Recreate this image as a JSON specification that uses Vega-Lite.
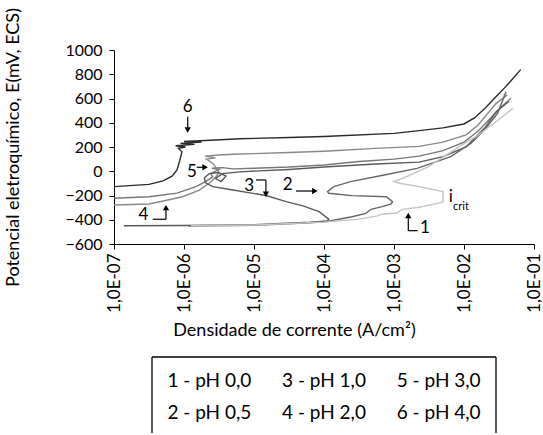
{
  "$schema": "https://vega.github.io/schema/vega-lite/v6.json",
  "background": "white",
  "padding": {"left": 4, "top": 7, "right": 0, "bottom": 0},
  "config": {
    "font": "Lato",
    "view": {"stroke": null},
    "axis": {"domainColor": "#000", "tickColor": "#000", "labelColor": "#000", "titleColor": "#000", "grid": false, "labelFont": "Lato", "titleFont": "Lato", "titleFontWeight": "normal"}
  },
  "datasets": {
    "curvas": [
      {"curva": "6", "i": 1, "j": 1.0e-7, "E": -127},
      {"curva": "6", "i": 2, "j": 3.16e-7, "E": -108},
      {"curva": "6", "i": 3, "j": 5.01e-7, "E": -80},
      {"curva": "6", "i": 4, "j": 6.76e-7, "E": -40},
      {"curva": "6", "i": 5, "j": 7.94e-7, "E": 10},
      {"curva": "6", "i": 6, "j": 8.71e-7, "E": 90},
      {"curva": "6", "i": 7, "j": 9.33e-7, "E": 160},
      {"curva": "6", "i": 8, "j": 8.32e-7, "E": 190},
      {"curva": "6", "i": 9, "j": 1.05e-6, "E": 200},
      {"curva": "6", "i": 10, "j": 7.59e-7, "E": 210},
      {"curva": "6", "i": 11, "j": 1.41e-6, "E": 222},
      {"curva": "6", "i": 12, "j": 8.91e-7, "E": 230},
      {"curva": "6", "i": 13, "j": 1.78e-6, "E": 240},
      {"curva": "6", "i": 14, "j": 1.0e-6, "E": 245},
      {"curva": "6", "i": 15, "j": 2.82e-6, "E": 258},
      {"curva": "6", "i": 16, "j": 6.31e-6, "E": 268},
      {"curva": "6", "i": 17, "j": 3.16e-5, "E": 278},
      {"curva": "6", "i": 18, "j": 1.0e-4, "E": 287},
      {"curva": "6", "i": 19, "j": 1.0e-3, "E": 312},
      {"curva": "6", "i": 20, "j": 2.29e-3, "E": 335},
      {"curva": "6", "i": 21, "j": 5.01e-3, "E": 358},
      {"curva": "6", "i": 22, "j": 1.0e-2, "E": 390},
      {"curva": "6", "i": 23, "j": 1.41e-2, "E": 440},
      {"curva": "6", "i": 24, "j": 2.0e-2, "E": 520},
      {"curva": "6", "i": 25, "j": 2.82e-2, "E": 610},
      {"curva": "6", "i": 26, "j": 3.98e-2, "E": 700},
      {"curva": "6", "i": 27, "j": 6.46e-2, "E": 838},

      {"curva": "5", "i": 1, "j": 1.0e-7, "E": -223},
      {"curva": "5", "i": 2, "j": 3.16e-7, "E": -210},
      {"curva": "5", "i": 3, "j": 7.94e-7, "E": -180},
      {"curva": "5", "i": 4, "j": 1.48e-6, "E": -127},
      {"curva": "5", "i": 5, "j": 2.04e-6, "E": -86},
      {"curva": "5", "i": 6, "j": 2.57e-6, "E": -45},
      {"curva": "5", "i": 7, "j": 2.4e-6, "E": -20},
      {"curva": "5", "i": 8, "j": 2.82e-6, "E": 0},
      {"curva": "5", "i": 9, "j": 3.16e-6, "E": 15},
      {"curva": "5", "i": 10, "j": 2.51e-6, "E": 25},
      {"curva": "5", "i": 11, "j": 3.55e-6, "E": 30},
      {"curva": "5", "i": 12, "j": 5.01e-6, "E": 20},
      {"curva": "5", "i": 13, "j": 1.0e-5, "E": 25},
      {"curva": "5", "i": 14, "j": 3.16e-5, "E": 35},
      {"curva": "5", "i": 15, "j": 1.0e-4, "E": 52},
      {"curva": "5", "i": 16, "j": 3.16e-4, "E": 80},
      {"curva": "5", "i": 17, "j": 1.0e-3, "E": 100},
      {"curva": "5", "i": 18, "j": 2.29e-3, "E": 125},
      {"curva": "5", "i": 19, "j": 5.01e-3, "E": 170},
      {"curva": "5", "i": 20, "j": 1.0e-2, "E": 240},
      {"curva": "5", "i": 21, "j": 1.58e-2, "E": 330},
      {"curva": "5", "i": 22, "j": 2.51e-2, "E": 450},
      {"curva": "5", "i": 23, "j": 3.55e-2, "E": 540},
      {"curva": "5", "i": 24, "j": 4.68e-2, "E": 602},

      {"curva": "4", "i": 1, "j": 1.0e-7, "E": -278},
      {"curva": "4", "i": 2, "j": 3.16e-7, "E": -270},
      {"curva": "4", "i": 3, "j": 5.25e-7, "E": -243},
      {"curva": "4", "i": 4, "j": 9.55e-7, "E": -210},
      {"curva": "4", "i": 5, "j": 1.66e-6, "E": -155},
      {"curva": "4", "i": 6, "j": 2.29e-6, "E": -99},
      {"curva": "4", "i": 7, "j": 2.88e-6, "E": -45},
      {"curva": "4", "i": 8, "j": 3.16e-6, "E": -10},
      {"curva": "4", "i": 9, "j": 2.63e-6, "E": 60},
      {"curva": "4", "i": 10, "j": 2.09e-6, "E": 100},
      {"curva": "4", "i": 11, "j": 2.82e-6, "E": 110},
      {"curva": "4", "i": 12, "j": 2.0e-6, "E": 125},
      {"curva": "4", "i": 13, "j": 3.16e-6, "E": 134},
      {"curva": "4", "i": 14, "j": 5.01e-6, "E": 140},
      {"curva": "4", "i": 15, "j": 1.0e-5, "E": 145},
      {"curva": "4", "i": 16, "j": 3.16e-5, "E": 155},
      {"curva": "4", "i": 17, "j": 1.0e-4, "E": 165},
      {"curva": "4", "i": 18, "j": 5.5e-4, "E": 189},
      {"curva": "4", "i": 19, "j": 2.29e-3, "E": 205},
      {"curva": "4", "i": 20, "j": 5.01e-3, "E": 240},
      {"curva": "4", "i": 21, "j": 1.07e-2, "E": 300},
      {"curva": "4", "i": 22, "j": 1.58e-2, "E": 380},
      {"curva": "4", "i": 23, "j": 2.88e-2, "E": 560},
      {"curva": "4", "i": 24, "j": 4.17e-2, "E": 630},

      {"curva": "3", "i": 1, "j": 1.38e-7, "E": -450},
      {"curva": "3", "i": 2, "j": 1.0e-6, "E": -447},
      {"curva": "3", "i": 3, "j": 1.0e-5, "E": -440},
      {"curva": "3", "i": 4, "j": 2.88e-5, "E": -429},
      {"curva": "3", "i": 5, "j": 6.31e-5, "E": -420},
      {"curva": "3", "i": 6, "j": 1.12e-4, "E": -410},
      {"curva": "3", "i": 7, "j": 1.17e-4, "E": -395},
      {"curva": "3", "i": 8, "j": 8.51e-5, "E": -333},
      {"curva": "3", "i": 9, "j": 5.01e-5, "E": -285},
      {"curva": "3", "i": 10, "j": 2.88e-5, "E": -251},
      {"curva": "3", "i": 11, "j": 1.48e-5, "E": -200},
      {"curva": "3", "i": 12, "j": 5.01e-6, "E": -155},
      {"curva": "3", "i": 13, "j": 2.57e-6, "E": -127},
      {"curva": "3", "i": 14, "j": 2.04e-6, "E": -96},
      {"curva": "3", "i": 15, "j": 1.95e-6, "E": -55},
      {"curva": "3", "i": 16, "j": 2.29e-6, "E": -20},
      {"curva": "3", "i": 17, "j": 3.09e-6, "E": -10},
      {"curva": "3", "i": 18, "j": 3.98e-6, "E": -40},
      {"curva": "3", "i": 19, "j": 3.39e-6, "E": -85},
      {"curva": "3", "i": 20, "j": 2.82e-6, "E": -60},
      {"curva": "3", "i": 21, "j": 3.55e-6, "E": -20},
      {"curva": "3", "i": 22, "j": 6.31e-6, "E": -5},
      {"curva": "3", "i": 23, "j": 3.16e-5, "E": 15},
      {"curva": "3", "i": 24, "j": 1.0e-4, "E": 35},
      {"curva": "3", "i": 25, "j": 5.5e-4, "E": 60},
      {"curva": "3", "i": 26, "j": 2.29e-3, "E": 75},
      {"curva": "3", "i": 27, "j": 5.01e-3, "E": 120},
      {"curva": "3", "i": 28, "j": 1.07e-2, "E": 200},
      {"curva": "3", "i": 29, "j": 2.0e-2, "E": 360},
      {"curva": "3", "i": 30, "j": 2.88e-2, "E": 491},
      {"curva": "3", "i": 31, "j": 4.37e-2, "E": 575},

      {"curva": "2", "i": 1, "j": 1.17e-6, "E": -452},
      {"curva": "2", "i": 2, "j": 1.0e-5, "E": -446},
      {"curva": "2", "i": 3, "j": 6.31e-5, "E": -426},
      {"curva": "2", "i": 4, "j": 1.15e-4, "E": -412},
      {"curva": "2", "i": 5, "j": 2.51e-4, "E": -375},
      {"curva": "2", "i": 6, "j": 3.98e-4, "E": -347},
      {"curva": "2", "i": 7, "j": 4.68e-4, "E": -314},
      {"curva": "2", "i": 8, "j": 6.76e-4, "E": -292},
      {"curva": "2", "i": 9, "j": 9.12e-4, "E": -270},
      {"curva": "2", "i": 10, "j": 9.55e-4, "E": -251},
      {"curva": "2", "i": 11, "j": 7.76e-4, "E": -210},
      {"curva": "2", "i": 12, "j": 2.51e-4, "E": -201},
      {"curva": "2", "i": 13, "j": 1.17e-4, "E": -182},
      {"curva": "2", "i": 14, "j": 1.12e-4, "E": -168},
      {"curva": "2", "i": 15, "j": 1.38e-4, "E": -127},
      {"curva": "2", "i": 16, "j": 2.4e-4, "E": -86},
      {"curva": "2", "i": 17, "j": 7.24e-4, "E": -31},
      {"curva": "2", "i": 18, "j": 2.14e-3, "E": 24},
      {"curva": "2", "i": 19, "j": 6.46e-3, "E": 120},
      {"curva": "2", "i": 20, "j": 1.26e-2, "E": 231},
      {"curva": "2", "i": 21, "j": 1.95e-2, "E": 340},
      {"curva": "2", "i": 22, "j": 3.02e-2, "E": 478},
      {"curva": "2", "i": 23, "j": 3.98e-2, "E": 656},

      {"curva": "1", "i": 1, "j": 1.26e-6, "E": -449},
      {"curva": "1", "i": 2, "j": 1.0e-5, "E": -443},
      {"curva": "1", "i": 3, "j": 1.0e-4, "E": -420},
      {"curva": "1", "i": 4, "j": 3.16e-4, "E": -395},
      {"curva": "1", "i": 5, "j": 5.62e-4, "E": -370},
      {"curva": "1", "i": 6, "j": 6.92e-4, "E": -352},
      {"curva": "1", "i": 7, "j": 1.07e-3, "E": -347},
      {"curva": "1", "i": 8, "j": 1.32e-3, "E": -314},
      {"curva": "1", "i": 9, "j": 2.29e-3, "E": -297},
      {"curva": "1", "i": 10, "j": 4.68e-3, "E": -259},
      {"curva": "1", "i": 11, "j": 5.01e-3, "E": -251},
      {"curva": "1", "i": 12, "j": 5.01e-3, "E": -168},
      {"curva": "1", "i": 13, "j": 2.29e-3, "E": -127},
      {"curva": "1", "i": 14, "j": 1.2e-3, "E": -99},
      {"curva": "1", "i": 15, "j": 1.0e-3, "E": -86},
      {"curva": "1", "i": 16, "j": 1.58e-3, "E": -40},
      {"curva": "1", "i": 17, "j": 3.16e-3, "E": 40},
      {"curva": "1", "i": 18, "j": 8.51e-3, "E": 203},
      {"curva": "1", "i": 19, "j": 1.48e-2, "E": 285},
      {"curva": "1", "i": 20, "j": 2.29e-2, "E": 367},
      {"curva": "1", "i": 21, "j": 3.55e-2, "E": 450},
      {"curva": "1", "i": 22, "j": 5.01e-2, "E": 519}
    ],
    "setas": [
      {"x": 1.13e-6, "y": 450, "x2": 1.13e-6, "y2": 335},
      {"x": 1.52e-6, "y": 33, "x2": 2.0e-6, "y2": 33},
      {"x": 3.57e-7, "y": -396, "x2": 5.53e-7, "y2": -396},
      {"x": 5.53e-7, "y": -396, "x2": 5.53e-7, "y2": -300},
      {"x": 1.07e-5, "y": -72, "x2": 1.48e-5, "y2": -72},
      {"x": 1.48e-5, "y": -72, "x2": 1.48e-5, "y2": -190},
      {"x": 3.98e-5, "y": -163, "x2": 7.4e-5, "y2": -163},
      {"x": 1.6e-3, "y": -490, "x2": 1.6e-3, "y2": -365},
      {"x": 1.6e-3, "y": -490, "x2": 2.18e-3, "y2": -490}
    ],
    "pontas": [
      {"x": 1.13e-6, "y": 340, "dir": "baixo"},
      {"x": 2.0e-6, "y": 33, "dir": "direita"},
      {"x": 5.53e-7, "y": -300, "dir": "cima"},
      {"x": 1.48e-5, "y": -190, "dir": "baixo"},
      {"x": 7.4e-5, "y": -163, "dir": "direita"},
      {"x": 1.6e-3, "y": -365, "dir": "cima"}
    ],
    "rotulos": [
      {"x": 1.13e-6, "y": 526, "t": "6"},
      {"x": 1.3e-6, "y": -10, "t": "5"},
      {"x": 2.64e-7, "y": -361, "t": "4"},
      {"x": 8.57e-6, "y": -120, "t": "3"},
      {"x": 3.03e-5, "y": -117, "t": "2"},
      {"x": 2.77e-3, "y": -470, "t": "1"},
      {"x": 6.5e-3, "y": -216, "t": "i"}
    ],
    "subscritos": [
      {"x": 9.06e-3, "y": -292, "t": "crit"}
    ],
    "legenda": [
      {"col": 1, "row": 1, "rotulo": "1 - pH 0,0"},
      {"col": 1, "row": 2, "rotulo": "2 - pH 0,5"},
      {"col": 2, "row": 1, "rotulo": "3 - pH 1,0"},
      {"col": 2, "row": 2, "rotulo": "4 - pH 2,0"},
      {"col": 3, "row": 1, "rotulo": "5 - pH 3,0"},
      {"col": 3, "row": 2, "rotulo": "6 - pH 4,0"}
    ]
  },
  "bounds": "flush",
  "center": true,
  "spacing": 113,
  "vconcat": [
    {
      "width": 420,
      "height": 194,
      "layer": [
        {
          "data": {"name": "curvas"},
          "mark": {"type": "line", "strokeWidth": 1.4, "clip": true},
          "encoding": {
            "x": {
              "field": "j", "type": "quantitative",
              "scale": {"type": "log", "domain": [1e-7, 0.1]},
              "axis": {
                "values": [1e-7, 1e-6, 1e-5, 1e-4, 1e-3, 1e-2, 1e-1],
                "tickCount": 12,
                "labelExpr": "'1,0E-0' + (-round(log(datum.value)/LN10))",
                "labelAngle": -90,
                "labelFontSize": 17,
                "labelOverlap": false,
                "tickSize": 5,
                "labelPadding": 4,
                "title": "Densidade de corrente (A/cm²)",
                "titleFontSize": 18,
                "titlePadding": 9,
                "titleX": 180,
                "titleAlign": "center"
              }
            },
            "y": {
              "field": "E", "type": "quantitative",
              "scale": {"domain": [-600, 1000], "nice": false},
              "axis": {
                "values": [-600, -400, -200, 0, 200, 400, 600, 800, 1000],
                "tickCount": 12,
                "format": "d",
                "labelOverlap": false,
                "labelFontSize": 16,
                "tickSize": 5,
                "labelPadding": 7,
                "title": "Potencial eletroquímico, E(mV, ECS)",
                "titleFontSize": 18,
                "titlePadding": 42
              }
            },
            "color": {
              "field": "curva", "type": "nominal",
              "scale": {"domain": ["1", "2", "3", "4", "5", "6"], "range": ["#c4c4c4", "#666666", "#5a5a5a", "#888888", "#777777", "#2a2a2a"]},
              "legend": null
            },
            "order": {"field": "i", "type": "quantitative"}
          }
        },
        {
          "data": {"name": "setas"},
          "mark": {"type": "rule", "color": "#000", "strokeWidth": 1.2},
          "encoding": {
            "x": {"field": "x", "type": "quantitative"},
            "y": {"field": "y", "type": "quantitative"},
            "x2": {"field": "x2"},
            "y2": {"field": "y2"}
          }
        },
        {
          "data": {"name": "pontas"},
          "mark": {"type": "point", "filled": true, "color": "#000", "opacity": 1, "size": 40},
          "encoding": {
            "x": {"field": "x", "type": "quantitative"},
            "y": {"field": "y", "type": "quantitative"},
            "shape": {
              "field": "dir", "type": "nominal",
              "scale": {"domain": ["baixo", "direita", "cima"], "range": ["triangle-down", "triangle-right", "triangle-up"]},
              "legend": null
            }
          }
        },
        {
          "data": {"name": "rotulos"},
          "mark": {"type": "text", "fontSize": 17, "color": "#000", "align": "center", "baseline": "middle"},
          "encoding": {
            "x": {"field": "x", "type": "quantitative"},
            "y": {"field": "y", "type": "quantitative"},
            "text": {"field": "t"}
          }
        },
        {
          "data": {"name": "subscritos"},
          "mark": {"type": "text", "fontSize": 11, "color": "#000", "align": "center", "baseline": "middle"},
          "encoding": {
            "x": {"field": "x", "type": "quantitative"},
            "y": {"field": "y", "type": "quantitative"},
            "text": {"field": "t"}
          }
        }
      ]
    },
    {
      "width": 344,
      "height": 76,
      "layer": [
        {
          "data": {"name": "legenda"},
          "mark": {"type": "text", "fontSize": 19, "color": "#000", "align": "center", "baseline": "middle"},
          "encoding": {
            "x": {"field": "col", "type": "quantitative", "scale": {"domain": [0.5, 3.5], "nice": false, "zero": false}, "axis": null},
            "y": {"field": "row", "type": "quantitative", "scale": {"domain": [0.25, 2.625], "nice": false, "zero": false, "reverse": true}, "axis": null},
            "text": {"field": "rotulo"}
          }
        },
        {
          "data": {"values": [{}]},
          "mark": {"type": "rule", "color": "#000", "strokeWidth": 1.3},
          "encoding": {"x": {"datum": 0.5}, "x2": {"datum": 3.5}, "y": {"datum": 0.25}}
        },
        {
          "data": {"values": [{}]},
          "mark": {"type": "rule", "color": "#000", "strokeWidth": 1.3},
          "encoding": {"x": {"datum": 0.5}, "y": {"datum": 0.25}, "y2": {"datum": 2.625}}
        },
        {
          "data": {"values": [{}]},
          "mark": {"type": "rule", "color": "#000", "strokeWidth": 1.3},
          "encoding": {"x": {"datum": 3.5}, "y": {"datum": 0.25}, "y2": {"datum": 2.625}}
        }
      ]
    }
  ]
}
